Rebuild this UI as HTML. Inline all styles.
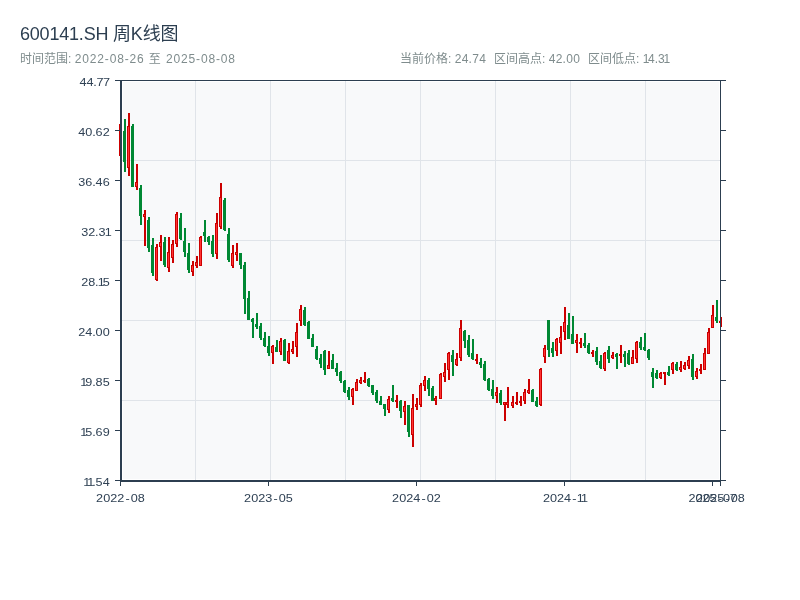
<!DOCTYPE html>
<html lang="zh-CN"><head><meta charset="utf-8"><title>600141.SH 周K线图</title>
<style>
html,body{margin:0;padding:0;background:#fff;}
body{width:800px;height:600px;position:relative;overflow:hidden;font-family:"Liberation Sans","Noto Sans CJK SC",sans-serif;}
.t{position:absolute;white-space:nowrap;line-height:1;}
#title{left:20px;top:25px;font-size:18px;color:#2c3e50;letter-spacing:-0.2px;}
#sub{left:20px;top:53px;font-size:12px;color:#7f8c8d;}
.w{letter-spacing:0.86px;}
.n3{margin-right:-1.4px;}
.n4{margin-left:-1.2px;}
.n{letter-spacing:0.3px;}
.st{top:53px;font-size:12px;color:#7f8c8d;}
svg{position:absolute;left:0;top:0;}
svg text{font-family:"Liberation Sans","Noto Sans CJK SC",sans-serif;font-size:11px;fill:#2f4154;}
</style></head><body>
<div class="t" id="title">600141.SH 周K线图</div>
<div class="t" id="sub">时间范围: <span class="w">2022-08-26 至 2025-08-08</span></div>
<div class="t st" id="s1" style="left:400px">当前价格: <span class="n">24.74</span></div>
<div class="t st" id="s2" style="left:494px">区间高点: <span class="n">42.00</span></div>
<div class="t st" id="s3" style="left:588px">区间低点: <span class="n3">1</span>4.3<span class="n4">1</span></div>
<svg width="800" height="600" viewBox="0 0 800 600" shape-rendering="crispEdges">
<rect x="123" y="82" width="596" height="397" fill="#f8f9fa"/>
<rect x="122" y="160" width="598" height="1" fill="#e0e4e9"/>
<rect x="122" y="240" width="598" height="1" fill="#e0e4e9"/>
<rect x="122" y="320" width="598" height="1" fill="#e0e4e9"/>
<rect x="122" y="400" width="598" height="1" fill="#e0e4e9"/>
<rect x="195" y="81" width="1" height="399" fill="#e0e4e9"/>
<rect x="270" y="81" width="1" height="399" fill="#e0e4e9"/>
<rect x="345" y="81" width="1" height="399" fill="#e0e4e9"/>
<rect x="420" y="81" width="1" height="399" fill="#e0e4e9"/>
<rect x="495" y="81" width="1" height="399" fill="#e0e4e9"/>
<rect x="570" y="81" width="1" height="399" fill="#e0e4e9"/>
<rect x="645" y="81" width="1" height="399" fill="#e0e4e9"/>
<g>
<rect x="120" y="124" width="2" height="32" fill="#cc0000"/>
<rect x="119" y="124" width="3" height="32" fill="#cc0000"/>
<rect x="120" y="125" width="1" height="30" fill="#ff3333"/>
<rect x="124" y="119" width="2" height="53" fill="#008833"/>
<rect x="123" y="131" width="3" height="31" fill="#008833"/>
<rect x="128" y="113" width="2" height="63" fill="#cc0000"/>
<rect x="127" y="126" width="3" height="42" fill="#cc0000"/>
<rect x="128" y="127" width="1" height="40" fill="#ff3333"/>
<rect x="132" y="124" width="2" height="63" fill="#008833"/>
<rect x="131" y="126" width="3" height="61" fill="#008833"/>
<rect x="136" y="164" width="2" height="26" fill="#cc0000"/>
<rect x="135" y="182" width="3" height="5" fill="#cc0000"/>
<rect x="136" y="183" width="1" height="3" fill="#ff3333"/>
<rect x="140" y="185" width="2" height="40" fill="#008833"/>
<rect x="139" y="188" width="3" height="28" fill="#008833"/>
<rect x="144" y="210" width="2" height="36" fill="#cc0000"/>
<rect x="143" y="214" width="3" height="3" fill="#cc0000"/>
<rect x="144" y="215" width="1" height="1" fill="#ff3333"/>
<rect x="148" y="217" width="2" height="35" fill="#008833"/>
<rect x="147" y="220" width="3" height="28" fill="#008833"/>
<rect x="152" y="238" width="2" height="38" fill="#008833"/>
<rect x="151" y="245" width="3" height="28" fill="#008833"/>
<rect x="156" y="244" width="2" height="37" fill="#cc0000"/>
<rect x="155" y="247" width="3" height="33" fill="#cc0000"/>
<rect x="156" y="248" width="1" height="31" fill="#ff3333"/>
<rect x="160" y="235" width="2" height="26" fill="#cc0000"/>
<rect x="159" y="242" width="3" height="5" fill="#cc0000"/>
<rect x="160" y="243" width="1" height="3" fill="#ff3333"/>
<rect x="164" y="237" width="2" height="30" fill="#008833"/>
<rect x="163" y="242" width="3" height="23" fill="#008833"/>
<rect x="168" y="237" width="2" height="35" fill="#cc0000"/>
<rect x="167" y="252" width="3" height="16" fill="#cc0000"/>
<rect x="168" y="253" width="1" height="14" fill="#ff3333"/>
<rect x="172" y="240" width="2" height="23" fill="#cc0000"/>
<rect x="171" y="244" width="3" height="14" fill="#cc0000"/>
<rect x="172" y="245" width="1" height="12" fill="#ff3333"/>
<rect x="176" y="212" width="2" height="35" fill="#cc0000"/>
<rect x="175" y="214" width="3" height="30" fill="#cc0000"/>
<rect x="176" y="215" width="1" height="28" fill="#ff3333"/>
<rect x="180" y="213" width="2" height="27" fill="#008833"/>
<rect x="179" y="218" width="3" height="21" fill="#008833"/>
<rect x="184" y="228" width="2" height="29" fill="#008833"/>
<rect x="183" y="241" width="3" height="11" fill="#008833"/>
<rect x="188" y="243" width="2" height="30" fill="#008833"/>
<rect x="187" y="253" width="3" height="17" fill="#008833"/>
<rect x="192" y="261" width="2" height="15" fill="#cc0000"/>
<rect x="191" y="265" width="3" height="7" fill="#cc0000"/>
<rect x="192" y="266" width="1" height="5" fill="#ff3333"/>
<rect x="196" y="256" width="2" height="12" fill="#cc0000"/>
<rect x="195" y="262" width="3" height="4" fill="#cc0000"/>
<rect x="196" y="263" width="1" height="2" fill="#ff3333"/>
<rect x="200" y="236" width="2" height="30" fill="#cc0000"/>
<rect x="199" y="237" width="3" height="29" fill="#cc0000"/>
<rect x="200" y="238" width="1" height="27" fill="#ff3333"/>
<rect x="204" y="220" width="2" height="22" fill="#008833"/>
<rect x="203" y="232" width="3" height="4" fill="#008833"/>
<rect x="208" y="236" width="2" height="9" fill="#008833"/>
<rect x="207" y="237" width="3" height="5" fill="#008833"/>
<rect x="212" y="235" width="2" height="22" fill="#008833"/>
<rect x="211" y="241" width="3" height="13" fill="#008833"/>
<rect x="216" y="213" width="2" height="46" fill="#cc0000"/>
<rect x="215" y="223" width="3" height="31" fill="#cc0000"/>
<rect x="216" y="224" width="1" height="29" fill="#ff3333"/>
<rect x="220" y="183" width="2" height="46" fill="#cc0000"/>
<rect x="219" y="197" width="3" height="30" fill="#cc0000"/>
<rect x="220" y="198" width="1" height="28" fill="#ff3333"/>
<rect x="224" y="198" width="2" height="33" fill="#008833"/>
<rect x="223" y="200" width="3" height="30" fill="#008833"/>
<rect x="228" y="228" width="2" height="34" fill="#008833"/>
<rect x="227" y="234" width="3" height="26" fill="#008833"/>
<rect x="232" y="245" width="2" height="23" fill="#cc0000"/>
<rect x="231" y="253" width="3" height="13" fill="#cc0000"/>
<rect x="232" y="254" width="1" height="11" fill="#ff3333"/>
<rect x="236" y="243" width="2" height="18" fill="#cc0000"/>
<rect x="235" y="252" width="3" height="3" fill="#cc0000"/>
<rect x="236" y="253" width="1" height="1" fill="#ff3333"/>
<rect x="240" y="253" width="2" height="16" fill="#008833"/>
<rect x="239" y="253" width="3" height="12" fill="#008833"/>
<rect x="244" y="262" width="2" height="52" fill="#008833"/>
<rect x="243" y="265" width="3" height="34" fill="#008833"/>
<rect x="248" y="291" width="2" height="29" fill="#008833"/>
<rect x="247" y="298" width="3" height="22" fill="#008833"/>
<rect x="252" y="318" width="2" height="20" fill="#008833"/>
<rect x="251" y="319" width="3" height="3" fill="#008833"/>
<rect x="256" y="313" width="2" height="16" fill="#008833"/>
<rect x="255" y="324" width="3" height="3" fill="#008833"/>
<rect x="260" y="323" width="2" height="17" fill="#008833"/>
<rect x="259" y="326" width="3" height="12" fill="#008833"/>
<rect x="264" y="332" width="2" height="15" fill="#008833"/>
<rect x="263" y="338" width="3" height="8" fill="#008833"/>
<rect x="268" y="336" width="2" height="20" fill="#008833"/>
<rect x="267" y="346" width="3" height="7" fill="#008833"/>
<rect x="272" y="345" width="2" height="19" fill="#cc0000"/>
<rect x="271" y="346" width="3" height="7" fill="#cc0000"/>
<rect x="272" y="347" width="1" height="5" fill="#ff3333"/>
<rect x="276" y="340" width="2" height="12" fill="#008833"/>
<rect x="275" y="347" width="3" height="5" fill="#008833"/>
<rect x="280" y="338" width="2" height="17" fill="#cc0000"/>
<rect x="279" y="341" width="3" height="11" fill="#cc0000"/>
<rect x="280" y="342" width="1" height="9" fill="#ff3333"/>
<rect x="284" y="339" width="2" height="22" fill="#008833"/>
<rect x="283" y="340" width="3" height="21" fill="#008833"/>
<rect x="288" y="343" width="2" height="21" fill="#cc0000"/>
<rect x="287" y="351" width="3" height="12" fill="#cc0000"/>
<rect x="288" y="352" width="1" height="10" fill="#ff3333"/>
<rect x="292" y="341" width="2" height="13" fill="#cc0000"/>
<rect x="291" y="349" width="3" height="3" fill="#cc0000"/>
<rect x="292" y="350" width="1" height="1" fill="#ff3333"/>
<rect x="296" y="323" width="2" height="34" fill="#cc0000"/>
<rect x="295" y="332" width="3" height="15" fill="#cc0000"/>
<rect x="296" y="333" width="1" height="13" fill="#ff3333"/>
<rect x="300" y="305" width="2" height="21" fill="#cc0000"/>
<rect x="299" y="309" width="3" height="12" fill="#cc0000"/>
<rect x="300" y="310" width="1" height="10" fill="#ff3333"/>
<rect x="304" y="307" width="2" height="19" fill="#008833"/>
<rect x="303" y="310" width="3" height="15" fill="#008833"/>
<rect x="308" y="321" width="2" height="18" fill="#008833"/>
<rect x="307" y="322" width="3" height="17" fill="#008833"/>
<rect x="312" y="334" width="2" height="13" fill="#008833"/>
<rect x="311" y="338" width="3" height="9" fill="#008833"/>
<rect x="316" y="346" width="2" height="14" fill="#008833"/>
<rect x="315" y="349" width="3" height="10" fill="#008833"/>
<rect x="320" y="354" width="2" height="14" fill="#008833"/>
<rect x="319" y="358" width="3" height="6" fill="#008833"/>
<rect x="324" y="350" width="2" height="25" fill="#008833"/>
<rect x="323" y="351" width="3" height="19" fill="#008833"/>
<rect x="328" y="351" width="2" height="18" fill="#cc0000"/>
<rect x="327" y="365" width="3" height="4" fill="#cc0000"/>
<rect x="328" y="366" width="1" height="2" fill="#ff3333"/>
<rect x="332" y="354" width="2" height="15" fill="#008833"/>
<rect x="331" y="360" width="3" height="9" fill="#008833"/>
<rect x="336" y="363" width="2" height="13" fill="#008833"/>
<rect x="335" y="368" width="3" height="4" fill="#008833"/>
<rect x="340" y="371" width="2" height="12" fill="#008833"/>
<rect x="339" y="372" width="3" height="9" fill="#008833"/>
<rect x="344" y="380" width="2" height="13" fill="#008833"/>
<rect x="343" y="381" width="3" height="11" fill="#008833"/>
<rect x="348" y="387" width="2" height="13" fill="#008833"/>
<rect x="347" y="390" width="3" height="7" fill="#008833"/>
<rect x="352" y="388" width="2" height="17" fill="#cc0000"/>
<rect x="351" y="389" width="3" height="8" fill="#cc0000"/>
<rect x="352" y="390" width="1" height="6" fill="#ff3333"/>
<rect x="356" y="379" width="2" height="12" fill="#cc0000"/>
<rect x="355" y="382" width="3" height="9" fill="#cc0000"/>
<rect x="356" y="383" width="1" height="7" fill="#ff3333"/>
<rect x="360" y="377" width="2" height="7" fill="#cc0000"/>
<rect x="359" y="380" width="3" height="3" fill="#cc0000"/>
<rect x="360" y="381" width="1" height="1" fill="#ff3333"/>
<rect x="364" y="372" width="2" height="11" fill="#cc0000"/>
<rect x="363" y="380" width="3" height="2" fill="#cc0000"/>
<rect x="368" y="378" width="2" height="9" fill="#008833"/>
<rect x="367" y="379" width="3" height="7" fill="#008833"/>
<rect x="372" y="385" width="2" height="10" fill="#008833"/>
<rect x="371" y="385" width="3" height="8" fill="#008833"/>
<rect x="376" y="390" width="2" height="13" fill="#008833"/>
<rect x="375" y="392" width="3" height="9" fill="#008833"/>
<rect x="380" y="396" width="2" height="9" fill="#008833"/>
<rect x="379" y="401" width="3" height="4" fill="#008833"/>
<rect x="384" y="404" width="2" height="12" fill="#008833"/>
<rect x="383" y="404" width="3" height="5" fill="#008833"/>
<rect x="388" y="396" width="2" height="17" fill="#cc0000"/>
<rect x="387" y="399" width="3" height="11" fill="#cc0000"/>
<rect x="388" y="400" width="1" height="9" fill="#ff3333"/>
<rect x="392" y="385" width="2" height="17" fill="#008833"/>
<rect x="391" y="398" width="3" height="3" fill="#008833"/>
<rect x="396" y="395" width="2" height="13" fill="#cc0000"/>
<rect x="395" y="400" width="3" height="2" fill="#cc0000"/>
<rect x="400" y="400" width="2" height="18" fill="#008833"/>
<rect x="399" y="401" width="3" height="10" fill="#008833"/>
<rect x="404" y="401" width="2" height="24" fill="#cc0000"/>
<rect x="403" y="406" width="3" height="6" fill="#cc0000"/>
<rect x="404" y="407" width="1" height="4" fill="#ff3333"/>
<rect x="408" y="405" width="2" height="32" fill="#008833"/>
<rect x="407" y="405" width="3" height="27" fill="#008833"/>
<rect x="412" y="394" width="2" height="53" fill="#cc0000"/>
<rect x="411" y="408" width="3" height="27" fill="#cc0000"/>
<rect x="412" y="409" width="1" height="25" fill="#ff3333"/>
<rect x="416" y="398" width="2" height="12" fill="#cc0000"/>
<rect x="415" y="404" width="3" height="3" fill="#cc0000"/>
<rect x="416" y="405" width="1" height="1" fill="#ff3333"/>
<rect x="420" y="383" width="2" height="24" fill="#cc0000"/>
<rect x="419" y="385" width="3" height="20" fill="#cc0000"/>
<rect x="420" y="386" width="1" height="18" fill="#ff3333"/>
<rect x="424" y="376" width="2" height="15" fill="#cc0000"/>
<rect x="423" y="380" width="3" height="6" fill="#cc0000"/>
<rect x="424" y="381" width="1" height="4" fill="#ff3333"/>
<rect x="428" y="378" width="2" height="18" fill="#008833"/>
<rect x="427" y="380" width="3" height="9" fill="#008833"/>
<rect x="432" y="386" width="2" height="15" fill="#008833"/>
<rect x="431" y="388" width="3" height="13" fill="#008833"/>
<rect x="435" y="396" width="2" height="9" fill="#cc0000"/>
<rect x="434" y="398" width="3" height="3" fill="#cc0000"/>
<rect x="435" y="399" width="1" height="1" fill="#ff3333"/>
<rect x="440" y="373" width="2" height="26" fill="#cc0000"/>
<rect x="439" y="374" width="3" height="25" fill="#cc0000"/>
<rect x="440" y="375" width="1" height="23" fill="#ff3333"/>
<rect x="444" y="363" width="2" height="19" fill="#cc0000"/>
<rect x="443" y="372" width="3" height="5" fill="#cc0000"/>
<rect x="444" y="373" width="1" height="3" fill="#ff3333"/>
<rect x="448" y="352" width="2" height="28" fill="#cc0000"/>
<rect x="447" y="353" width="3" height="17" fill="#cc0000"/>
<rect x="448" y="354" width="1" height="15" fill="#ff3333"/>
<rect x="452" y="350" width="2" height="26" fill="#008833"/>
<rect x="451" y="355" width="3" height="7" fill="#008833"/>
<rect x="456" y="353" width="2" height="13" fill="#cc0000"/>
<rect x="455" y="359" width="3" height="6" fill="#cc0000"/>
<rect x="456" y="360" width="1" height="4" fill="#ff3333"/>
<rect x="460" y="320" width="2" height="41" fill="#cc0000"/>
<rect x="459" y="328" width="3" height="30" fill="#cc0000"/>
<rect x="460" y="329" width="1" height="28" fill="#ff3333"/>
<rect x="464" y="330" width="2" height="18" fill="#008833"/>
<rect x="463" y="331" width="3" height="10" fill="#008833"/>
<rect x="468" y="335" width="2" height="22" fill="#008833"/>
<rect x="467" y="340" width="3" height="15" fill="#008833"/>
<rect x="472" y="339" width="2" height="21" fill="#008833"/>
<rect x="471" y="353" width="3" height="6" fill="#008833"/>
<rect x="476" y="354" width="2" height="10" fill="#cc0000"/>
<rect x="475" y="359" width="3" height="2" fill="#cc0000"/>
<rect x="480" y="358" width="2" height="10" fill="#008833"/>
<rect x="479" y="362" width="3" height="3" fill="#008833"/>
<rect x="484" y="361" width="2" height="20" fill="#008833"/>
<rect x="483" y="364" width="3" height="16" fill="#008833"/>
<rect x="488" y="378" width="2" height="13" fill="#008833"/>
<rect x="487" y="379" width="3" height="11" fill="#008833"/>
<rect x="492" y="380" width="2" height="19" fill="#008833"/>
<rect x="491" y="389" width="3" height="7" fill="#008833"/>
<rect x="496" y="387" width="2" height="16" fill="#cc0000"/>
<rect x="495" y="392" width="3" height="4" fill="#cc0000"/>
<rect x="496" y="393" width="1" height="2" fill="#ff3333"/>
<rect x="500" y="390" width="2" height="15" fill="#008833"/>
<rect x="499" y="393" width="3" height="10" fill="#008833"/>
<rect x="504" y="402" width="2" height="19" fill="#cc0000"/>
<rect x="503" y="402" width="3" height="3" fill="#cc0000"/>
<rect x="504" y="403" width="1" height="1" fill="#ff3333"/>
<rect x="507" y="387" width="2" height="21" fill="#cc0000"/>
<rect x="506" y="402" width="3" height="3" fill="#cc0000"/>
<rect x="507" y="403" width="1" height="1" fill="#ff3333"/>
<rect x="512" y="396" width="2" height="12" fill="#cc0000"/>
<rect x="511" y="402" width="3" height="4" fill="#cc0000"/>
<rect x="512" y="403" width="1" height="2" fill="#ff3333"/>
<rect x="516" y="392" width="2" height="13" fill="#cc0000"/>
<rect x="515" y="402" width="3" height="2" fill="#cc0000"/>
<rect x="520" y="396" width="2" height="10" fill="#cc0000"/>
<rect x="519" y="401" width="3" height="2" fill="#cc0000"/>
<rect x="524" y="389" width="2" height="15" fill="#cc0000"/>
<rect x="523" y="392" width="3" height="9" fill="#cc0000"/>
<rect x="524" y="393" width="1" height="7" fill="#ff3333"/>
<rect x="528" y="379" width="2" height="15" fill="#cc0000"/>
<rect x="527" y="390" width="3" height="3" fill="#cc0000"/>
<rect x="528" y="391" width="1" height="1" fill="#ff3333"/>
<rect x="532" y="389" width="2" height="13" fill="#008833"/>
<rect x="531" y="390" width="3" height="12" fill="#008833"/>
<rect x="536" y="397" width="2" height="10" fill="#008833"/>
<rect x="535" y="401" width="3" height="5" fill="#008833"/>
<rect x="540" y="368" width="2" height="38" fill="#cc0000"/>
<rect x="539" y="369" width="3" height="36" fill="#cc0000"/>
<rect x="540" y="370" width="1" height="34" fill="#ff3333"/>
<rect x="544" y="345" width="2" height="18" fill="#cc0000"/>
<rect x="543" y="348" width="3" height="9" fill="#cc0000"/>
<rect x="544" y="349" width="1" height="7" fill="#ff3333"/>
<rect x="548" y="320" width="2" height="37" fill="#008833"/>
<rect x="547" y="320" width="3" height="30" fill="#008833"/>
<rect x="552" y="342" width="2" height="15" fill="#008833"/>
<rect x="551" y="348" width="3" height="5" fill="#008833"/>
<rect x="556" y="338" width="2" height="18" fill="#cc0000"/>
<rect x="555" y="339" width="3" height="12" fill="#cc0000"/>
<rect x="556" y="340" width="1" height="10" fill="#ff3333"/>
<rect x="560" y="326" width="2" height="28" fill="#cc0000"/>
<rect x="559" y="337" width="3" height="6" fill="#cc0000"/>
<rect x="560" y="338" width="1" height="4" fill="#ff3333"/>
<rect x="564" y="307" width="2" height="33" fill="#cc0000"/>
<rect x="563" y="322" width="3" height="10" fill="#cc0000"/>
<rect x="564" y="323" width="1" height="8" fill="#ff3333"/>
<rect x="568" y="313" width="2" height="26" fill="#008833"/>
<rect x="567" y="325" width="3" height="14" fill="#008833"/>
<rect x="572" y="316" width="2" height="28" fill="#008833"/>
<rect x="571" y="334" width="3" height="10" fill="#008833"/>
<rect x="576" y="334" width="2" height="19" fill="#cc0000"/>
<rect x="575" y="340" width="3" height="3" fill="#cc0000"/>
<rect x="576" y="341" width="1" height="1" fill="#ff3333"/>
<rect x="580" y="338" width="2" height="10" fill="#cc0000"/>
<rect x="579" y="342" width="3" height="2" fill="#cc0000"/>
<rect x="584" y="333" width="2" height="15" fill="#008833"/>
<rect x="583" y="343" width="3" height="3" fill="#008833"/>
<rect x="588" y="343" width="2" height="11" fill="#008833"/>
<rect x="587" y="345" width="3" height="8" fill="#008833"/>
<rect x="592" y="350" width="2" height="7" fill="#cc0000"/>
<rect x="591" y="352" width="3" height="2" fill="#cc0000"/>
<rect x="596" y="347" width="2" height="18" fill="#008833"/>
<rect x="595" y="351" width="3" height="11" fill="#008833"/>
<rect x="600" y="355" width="2" height="14" fill="#008833"/>
<rect x="599" y="361" width="3" height="7" fill="#008833"/>
<rect x="604" y="352" width="2" height="19" fill="#cc0000"/>
<rect x="603" y="353" width="3" height="16" fill="#cc0000"/>
<rect x="604" y="354" width="1" height="14" fill="#ff3333"/>
<rect x="608" y="346" width="2" height="17" fill="#008833"/>
<rect x="607" y="350" width="3" height="9" fill="#008833"/>
<rect x="612" y="352" width="2" height="7" fill="#cc0000"/>
<rect x="611" y="355" width="3" height="3" fill="#cc0000"/>
<rect x="612" y="356" width="1" height="1" fill="#ff3333"/>
<rect x="616" y="353" width="2" height="16" fill="#008833"/>
<rect x="615" y="354" width="3" height="3" fill="#008833"/>
<rect x="620" y="345" width="2" height="18" fill="#cc0000"/>
<rect x="619" y="354" width="3" height="2" fill="#cc0000"/>
<rect x="624" y="351" width="2" height="16" fill="#008833"/>
<rect x="623" y="354" width="3" height="3" fill="#008833"/>
<rect x="628" y="350" width="2" height="15" fill="#008833"/>
<rect x="627" y="353" width="3" height="11" fill="#008833"/>
<rect x="632" y="350" width="2" height="14" fill="#cc0000"/>
<rect x="631" y="357" width="3" height="7" fill="#cc0000"/>
<rect x="632" y="358" width="1" height="5" fill="#ff3333"/>
<rect x="636" y="341" width="2" height="22" fill="#cc0000"/>
<rect x="635" y="342" width="3" height="17" fill="#cc0000"/>
<rect x="636" y="343" width="1" height="15" fill="#ff3333"/>
<rect x="640" y="337" width="2" height="13" fill="#008833"/>
<rect x="639" y="342" width="3" height="6" fill="#008833"/>
<rect x="644" y="333" width="2" height="18" fill="#008833"/>
<rect x="643" y="347" width="3" height="3" fill="#008833"/>
<rect x="648" y="349" width="2" height="11" fill="#008833"/>
<rect x="647" y="350" width="3" height="8" fill="#008833"/>
<rect x="652" y="368" width="2" height="20" fill="#008833"/>
<rect x="651" y="372" width="3" height="5" fill="#008833"/>
<rect x="656" y="370" width="2" height="9" fill="#008833"/>
<rect x="655" y="373" width="3" height="5" fill="#008833"/>
<rect x="660" y="372" width="2" height="7" fill="#cc0000"/>
<rect x="659" y="373" width="3" height="5" fill="#cc0000"/>
<rect x="660" y="374" width="1" height="3" fill="#ff3333"/>
<rect x="664" y="372" width="2" height="13" fill="#cc0000"/>
<rect x="663" y="372" width="3" height="2" fill="#cc0000"/>
<rect x="668" y="366" width="2" height="10" fill="#008833"/>
<rect x="667" y="372" width="3" height="3" fill="#008833"/>
<rect x="672" y="362" width="2" height="12" fill="#cc0000"/>
<rect x="671" y="363" width="3" height="7" fill="#cc0000"/>
<rect x="672" y="364" width="1" height="5" fill="#ff3333"/>
<rect x="676" y="362" width="2" height="9" fill="#008833"/>
<rect x="675" y="364" width="3" height="6" fill="#008833"/>
<rect x="680" y="361" width="2" height="11" fill="#cc0000"/>
<rect x="679" y="367" width="3" height="3" fill="#cc0000"/>
<rect x="680" y="368" width="1" height="1" fill="#ff3333"/>
<rect x="684" y="362" width="2" height="8" fill="#cc0000"/>
<rect x="683" y="365" width="3" height="4" fill="#cc0000"/>
<rect x="684" y="366" width="1" height="2" fill="#ff3333"/>
<rect x="688" y="356" width="2" height="13" fill="#cc0000"/>
<rect x="687" y="360" width="3" height="6" fill="#cc0000"/>
<rect x="688" y="361" width="1" height="4" fill="#ff3333"/>
<rect x="692" y="354" width="2" height="26" fill="#008833"/>
<rect x="691" y="359" width="3" height="18" fill="#008833"/>
<rect x="696" y="368" width="2" height="11" fill="#cc0000"/>
<rect x="695" y="371" width="3" height="6" fill="#cc0000"/>
<rect x="696" y="372" width="1" height="4" fill="#ff3333"/>
<rect x="700" y="364" width="2" height="10" fill="#cc0000"/>
<rect x="699" y="369" width="3" height="2" fill="#cc0000"/>
<rect x="704" y="348" width="2" height="22" fill="#cc0000"/>
<rect x="703" y="353" width="3" height="17" fill="#cc0000"/>
<rect x="704" y="354" width="1" height="15" fill="#ff3333"/>
<rect x="708" y="328" width="2" height="26" fill="#cc0000"/>
<rect x="707" y="332" width="3" height="22" fill="#cc0000"/>
<rect x="708" y="333" width="1" height="20" fill="#ff3333"/>
<rect x="712" y="305" width="2" height="23" fill="#cc0000"/>
<rect x="711" y="315" width="3" height="13" fill="#cc0000"/>
<rect x="712" y="316" width="1" height="11" fill="#ff3333"/>
<rect x="716" y="300" width="2" height="23" fill="#008833"/>
<rect x="715" y="317" width="3" height="4" fill="#008833"/>
<rect x="720" y="317" width="2" height="10" fill="#cc0000"/>
<rect x="719" y="321" width="3" height="2" fill="#cc0000"/>
</g>
<rect x="115" y="80" width="611" height="1" fill="#2c3e50"/>
<rect x="120" y="80" width="2" height="402" fill="#2c3e50"/>
<rect x="120" y="480" width="601" height="2" fill="#2c3e50"/>
<rect x="720" y="80" width="1" height="402" fill="#2c3e50"/>
<rect x="115" y="80" width="5" height="1" fill="#2c3e50"/>
<rect x="721" y="80" width="5" height="1" fill="#2c3e50"/>
<text transform="translate(0,86) scale(1.15,1)" x="69.05 75.18 81.17 83.85 89.51" y="0">44.77</text>
<rect x="115" y="130" width="5" height="1" fill="#2c3e50"/>
<rect x="721" y="130" width="5" height="1" fill="#2c3e50"/>
<text transform="translate(0,136) scale(1.15,1)" x="68.09 74.22 80.21 83.14 89.27" y="0">40.62</text>
<rect x="115" y="180" width="5" height="1" fill="#2c3e50"/>
<rect x="721" y="180" width="5" height="1" fill="#2c3e50"/>
<text transform="translate(0,186) scale(1.15,1)" x="68.09 74.22 80.21 83.14 89.27" y="0">36.46</text>
<rect x="115" y="230" width="5" height="1" fill="#2c3e50"/>
<rect x="721" y="230" width="5" height="1" fill="#2c3e50"/>
<text transform="translate(0,236) scale(1.15,1)" x="70.57 76.70 82.69 85.61 91.03" y="0">32.31</text>
<rect x="115" y="280" width="5" height="1" fill="#2c3e50"/>
<rect x="721" y="280" width="5" height="1" fill="#2c3e50"/>
<text transform="translate(0,286) scale(1.15,1)" x="70.57 76.70 82.69 84.90 89.27" y="0">28.15</text>
<rect x="115" y="330" width="5" height="1" fill="#2c3e50"/>
<rect x="721" y="330" width="5" height="1" fill="#2c3e50"/>
<text transform="translate(0,336) scale(1.15,1)" x="68.09 74.22 80.21 83.14 89.27" y="0">24.00</text>
<rect x="115" y="380" width="5" height="1" fill="#2c3e50"/>
<rect x="721" y="380" width="5" height="1" fill="#2c3e50"/>
<text transform="translate(0,386) scale(1.15,1)" x="69.85 74.22 80.21 83.14 89.27" y="0">19.85</text>
<rect x="115" y="430" width="5" height="1" fill="#2c3e50"/>
<rect x="721" y="430" width="5" height="1" fill="#2c3e50"/>
<text transform="translate(0,436) scale(1.15,1)" x="69.85 74.22 80.21 83.14 89.27" y="0">15.69</text>
<rect x="115" y="480" width="5" height="1" fill="#2c3e50"/>
<rect x="721" y="480" width="5" height="1" fill="#2c3e50"/>
<text transform="translate(0,486) scale(1.15,1)" x="72.33 75.98 80.21 83.14 89.27" y="0">11.54</text>
<rect x="120" y="482" width="1" height="4" fill="#2c3e50"/>
<text transform="translate(0,502) scale(1.15,1)" x="83.57 89.70 95.83 101.96 109.08 113.75 119.88" y="0">2022-08</text>
<rect x="268" y="482" width="1" height="4" fill="#2c3e50"/>
<text transform="translate(0,502) scale(1.15,1)" x="212.27 218.40 224.53 230.66 237.78 242.44 248.57" y="0">2023-05</text>
<rect x="416" y="482" width="1" height="4" fill="#2c3e50"/>
<text transform="translate(0,502) scale(1.15,1)" x="340.96 347.09 353.22 359.35 366.47 371.14 377.27" y="0">2024-02</text>
<rect x="564" y="482" width="1" height="4" fill="#2c3e50"/>
<text transform="translate(0,502) scale(1.15,1)" x="472.14 478.27 484.40 490.53 497.65 501.59 505.25" y="0">2024-11</text>
<rect x="712" y="482" width="1" height="4" fill="#2c3e50"/>
<text transform="translate(0,502) scale(1.15,1)" x="598.59 604.72 610.85 616.98 624.10 628.77 634.66" y="0">2025-07</text>
<rect x="720" y="482" width="1" height="4" fill="#2c3e50"/>
<text transform="translate(0,502) scale(1.15,1)" x="605.31 611.44 617.57 623.70 630.82 635.48 641.61" y="0">2025-08</text>
</svg>
</body></html>
